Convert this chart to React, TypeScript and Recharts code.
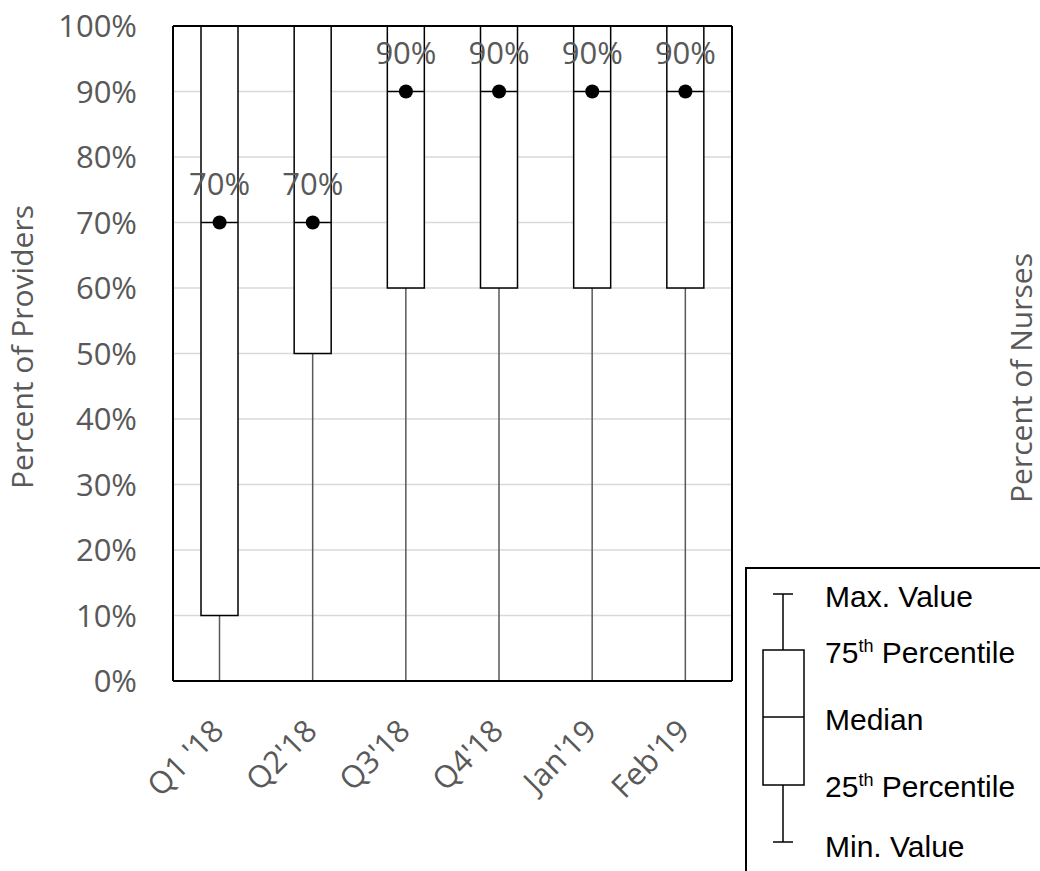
import React from 'react';
import {
  ComposedChart,
  Bar,
  Line,
  XAxis,
  YAxis,
  CartesianGrid,
  ReferenceLine,
  LabelList,
  Legend,
} from 'recharts';

const categories = ["Q1 '18", "Q2'18", "Q3'18", "Q4'18", "Jan'19", "Feb'19"];
const minValues = [0, 0, 0, 0, 0, 0];
const q1Values = [10, 50, 60, 60, 60, 60];
const medianValues = [70, 70, 90, 90, 90, 90];
const q3Values = [100, 100, 100, 100, 100, 100];
const maxValues = [100, 100, 100, 100, 100, 100];
const yTicks = [0, 10, 20, 30, 40, 50, 60, 70, 80, 90, 100];

const chartData = categories.map((name, i) => ({
  name,
  whisker: [minValues[i], maxValues[i]],
  box: [q1Values[i], q3Values[i]],
  median: medianValues[i],
}));

const GREY = '#595959';
const FONT = '"Open Sans", sans-serif';
const BOX_HALF = 18.5;

const WhiskerShape = (props: any) => {
  const { x, y, width, height } = props;
  const cx = x + width / 2;
  return (
    <g>
      <line x1={cx} x2={cx} y1={y} y2={y + height} stroke={GREY} strokeWidth={1.5} />
      <line x1={cx - 6} x2={cx + 6} y1={y} y2={y} stroke={GREY} strokeWidth={1.5} />
      <line x1={cx - 6} x2={cx + 6} y1={y + height} y2={y + height} stroke={GREY} strokeWidth={1.5} />
    </g>
  );
};

const BoxShape = (props: any) => {
  const { x, y, width, height } = props;
  return <rect x={x} y={y} width={width} height={height} fill="#fff" stroke="#000" strokeWidth={1.5} />;
};

const MedianDot = (props: any) => {
  const { cx, cy, index } = props;
  return (
    <g key={`med-${index}`}>
      <line x1={cx - BOX_HALF} x2={cx + BOX_HALF} y1={cy} y2={cy} stroke="#000" strokeWidth={1.5} />
      <circle cx={cx} cy={cy} r={7} fill="#000" />
    </g>
  );
};

const MedianLabel = (props: any) => {
  const { x, y, value } = props;
  return (
    <text x={x} y={y - 28} textAnchor="middle" fill={GREY} fontSize={31} fontFamily={FONT}>
      {`${value}%`}
    </text>
  );
};

const XTick = (props: any) => {
  const { x, y, payload } = props;
  const tx = x + 6;
  const ty = y + 52;
  return (
    <text
      x={tx}
      y={ty}
      transform={`rotate(-45 ${tx} ${ty})`}
      textAnchor="end"
      fill={GREY}
      fontSize={31}
      fontFamily={FONT}
    >
      {payload.value}
    </text>
  );
};

const LegendBox = () => (
  <div
    style={{
      width: 320,
      height: 320,
      border: '2px solid #000',
      boxSizing: 'border-box',
      background: '#fff',
    }}
  >
    <svg width={316} height={316}>
      <g stroke="#000" strokeWidth={1.5} fill="none">
        <line x1={26} x2={46} y1={25} y2={25} />
        <line x1={36} x2={36} y1={25} y2={81} />
        <rect x={16} y={81} width={41} height={135} fill="#fff" />
        <line x1={16} x2={57} y1={148} y2={148} />
        <line x1={36} x2={36} y1={216} y2={273} />
        <line x1={26} x2={46} y1={273} y2={273} />
      </g>
      <g fill="#000" fontFamily='"Liberation Sans", Arial, sans-serif' fontSize={30}>
        <text x={78} y={38}>Max. Value</text>
        <text x={78} y={94}>
          75<tspan fontSize={18} dy={-11}>th</tspan>
          <tspan dy={11}> Percentile</tspan>
        </text>
        <text x={78} y={161}>Median</text>
        <text x={78} y={228}>
          25<tspan fontSize={18} dy={-11}>th</tspan>
          <tspan dy={11}> Percentile</tspan>
        </text>
        <text x={78} y={288}>Min. Value</text>
      </g>
    </svg>
  </div>
);

const YLabelLeft = () => (
  <text
    x={33}
    y={347}
    transform="rotate(-90 33 347)"
    textAnchor="middle"
    fill={GREY}
    fontSize={30}
    fontFamily={FONT}
  >
    Percent of Providers
  </text>
);

const YLabelRight = () => (
  <text
    x={1032}
    y={378}
    transform="rotate(-90 1032 378)"
    textAnchor="middle"
    fill={GREY}
    fontSize={30}
    fontFamily={FONT}
  >
    Percent of Nurses
  </text>
);

const App: React.FC = () => {
  return (
    <div style={{ position: 'absolute', left: 0, top: 0, width: 1040, height: 871, overflow: 'hidden' }}>
      <ComposedChart width={1040} height={871} data={chartData} margin={{ top: 26, right: 0, left: 0, bottom: 0 }}>
        <CartesianGrid vertical={false} stroke="#d9d9d9" strokeWidth={1.5} yAxisId="left" xAxisId="a" />
        <XAxis
          xAxisId="a"
          dataKey="name"
          height={190}
          interval={0}
          tickLine={false}
          tickSize={0}
          tickMargin={0}
          tick={<XTick />}
          axisLine={{ stroke: '#000', strokeWidth: 2 }}
        />
        <XAxis xAxisId="b" dataKey="name" hide />
        <YAxis
          yAxisId="left"
          type="number"
          domain={[0, 100]}
          ticks={yTicks}
          interval={0}
          width={173}
          tickLine={false}
          tickSize={0}
          tickMargin={36}
          tickFormatter={(v: number) => `${v}%`}
          tick={{ fill: GREY, fontSize: 31, fontFamily: FONT }}
          axisLine={{ stroke: '#000', strokeWidth: 2 }}
          label={<YLabelLeft />}
        />
        <YAxis
          yAxisId="right"
          orientation="right"
          type="number"
          domain={[0, 100]}
          width={308}
          tick={false}
          tickLine={false}
          axisLine={{ stroke: '#000', strokeWidth: 2 }}
          label={<YLabelRight />}
        />
        <Bar
          xAxisId="b"
          yAxisId="left"
          dataKey="whisker"
          barSize={37}
          shape={<WhiskerShape />}
          isAnimationActive={false}
        />
        <Bar
          xAxisId="a"
          yAxisId="left"
          dataKey="box"
          barSize={37}
          shape={<BoxShape />}
          isAnimationActive={false}
        />
        <Line
          xAxisId="a"
          yAxisId="left"
          dataKey="median"
          stroke="none"
          dot={MedianDot}
          activeDot={false}
          isAnimationActive={false}
        >
          <LabelList dataKey="median" content={<MedianLabel />} />
        </Line>
        <ReferenceLine xAxisId="a" yAxisId="left" y={100} stroke="#000" strokeWidth={2} />
        <Legend
          layout="vertical"
          align="center"
          verticalAlign="middle"
          content={<LegendBox />}
          wrapperStyle={{ position: 'absolute', left: 745, top: 567, width: 320, height: 320 }}
        />
      </ComposedChart>
    </div>
  );
};

export default App;
